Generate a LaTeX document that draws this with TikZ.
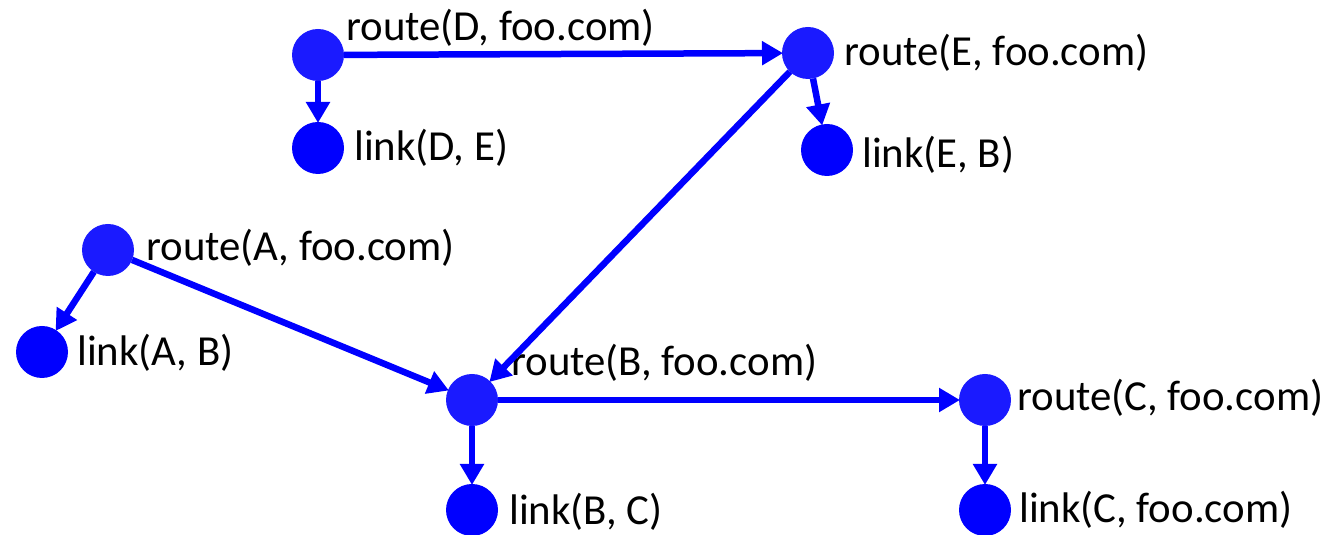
\documentclass[tikz,border=0pt]{standalone}
\usepackage{fontspec}
\setmainfont{Carlito}
\usetikzlibrary{positioning,arrows.meta}

\definecolor{routeblue}{RGB}{26,26,255}
\definecolor{linkblue}{RGB}{0,0,255}

\tikzset{
  fact/.style={circle, minimum size=52pt, inner sep=0pt, outer sep=0pt},
  routefact/.style={fact, fill=routeblue},
  linkfact/.style={fact, fill=linkblue},
  lbl/.style={inner sep=0pt, font=\fontsize{42.8}{50}\selectfont},
  deriv/.style={draw=linkblue, line width=6.5pt, -{Triangle[length=21pt,width=23pt]}, shorten >=-1pt}
}

\begin{document}
\begin{tikzpicture}[x=1pt, y=1pt]
    \useasboundingbox (0,0) rectangle (1331,535);

    % facts
    \node[routefact] (rD) at (318, 480) {};
    \node[linkfact] (lDE) at (318, 387) {};
    \node[routefact] (rE) at (808, 482) {};
    \node[linkfact] (lEB) at (827, 385) {};
    \node[routefact] (rA) at (108, 285) {};
    \node[linkfact] (lAB) at (42, 183) {};
    \node[routefact] (rB) at (472, 135) {};
    \node[linkfact] (lBC) at (472, 25) {};
    \node[routefact] (rC) at (985, 135) {};
    \node[linkfact] (lCf) at (985, 25) {};

    % labels
    \node[lbl, right=2pt of rD, yshift=27pt] (tD) {route(D, foo.com)};
    \node[lbl, right=10pt of lDE] (tDE) {link(D, E)};
    \node[lbl, right=10pt of rE] (tE) {route(E, foo.com)};
    \node[lbl, right=9pt of lEB, yshift=-5pt] (tEB) {link(E, B)};
    \node[lbl, right=12pt of rA, yshift=2pt] (tA) {route(A, foo.com)};
    \node[lbl, right=9pt of lAB, yshift=-1pt] (tAB) {link(A, B)};
    \node[lbl, right=13pt of rB, yshift=37pt] (tB) {route(B, foo.com)};
    \node[lbl, right=11pt of lBC, yshift=-2pt] (tBC) {link(B, C)};
    \node[lbl, right=6pt of rC, yshift=2pt] (tC) {route(C, foo.com)};
    \node[lbl, right=8pt of lCf] (tCf) {link(C, foo.com)};

    % derivations
    \draw[deriv] (rD) -- (rE);
    \draw[deriv] (rD) -- (lDE);
    \draw[deriv] (rE) -- (lEB);
    \draw[deriv] (rE) -- (rB);
    \draw[deriv] (rA) -- (lAB);
    \draw[deriv] (rA) -- (rB);
    \draw[deriv] (rB) -- (rC);
    \draw[deriv] (rB) -- (lBC);
    \draw[deriv] (rC) -- (lCf);
\end{tikzpicture}
\end{document}
